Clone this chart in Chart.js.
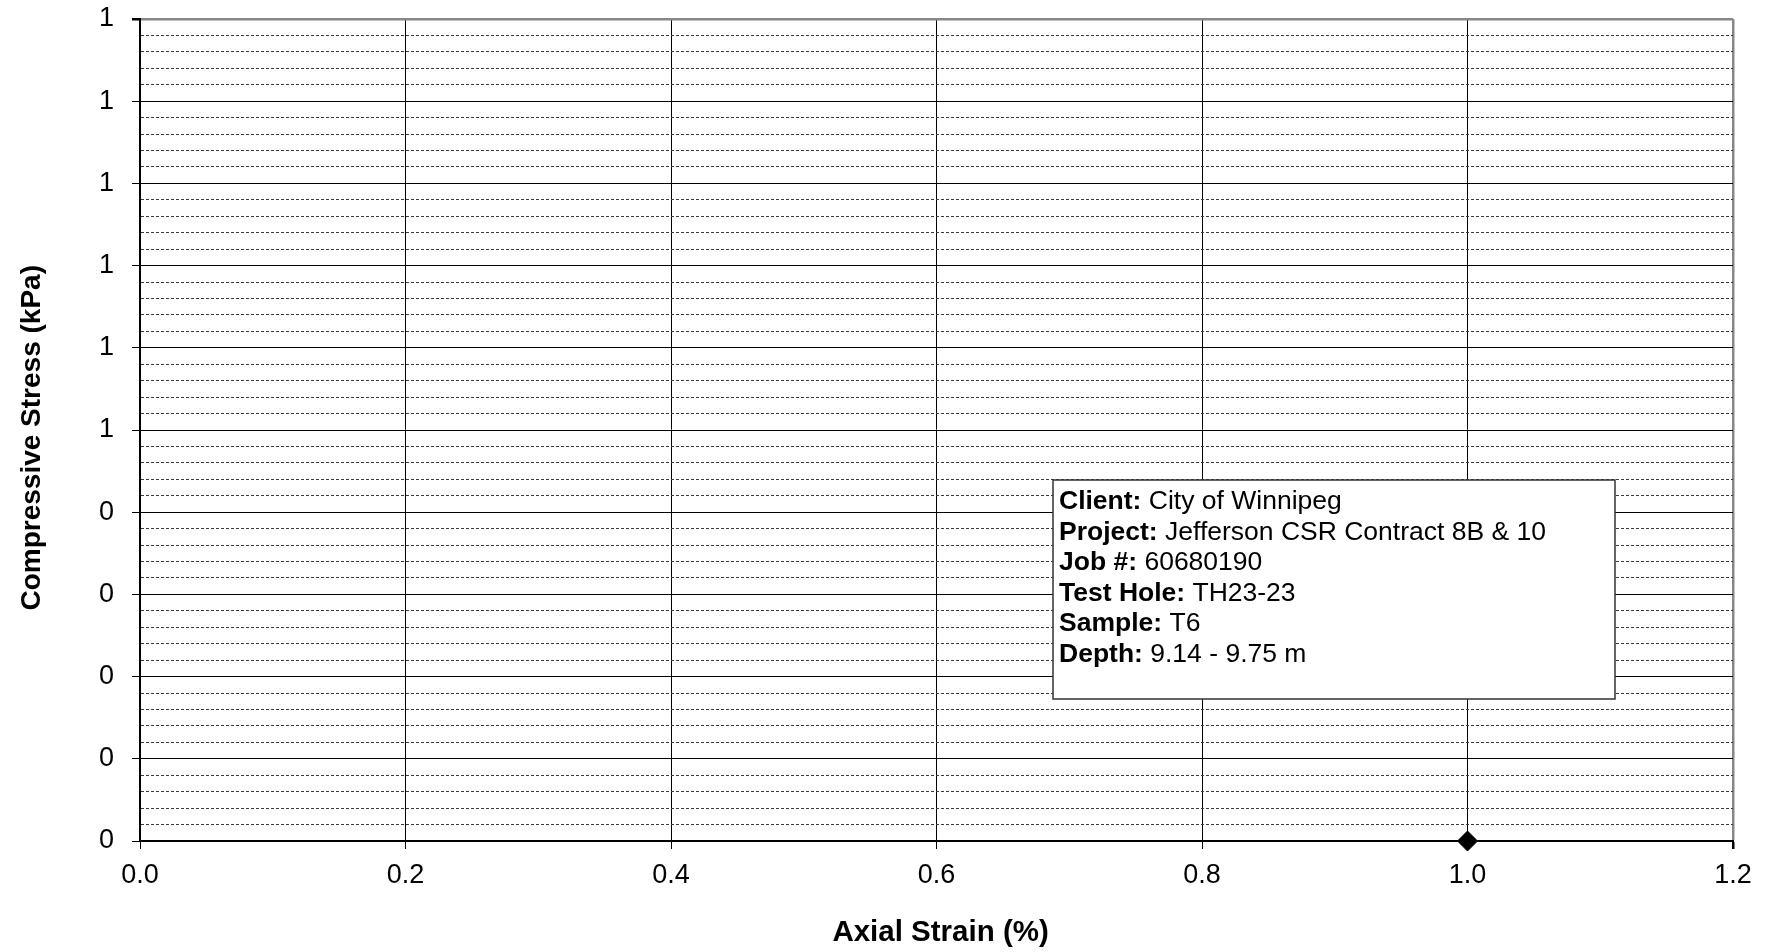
<!DOCTYPE html>
<html>
<head>
<meta charset="utf-8">
<script src="https://cdn.jsdelivr.net/npm/chart.js@4/dist/chart.umd.min.js"></script>
<style>
  html, body { margin: 0; padding: 0; background: #fff; }
  #chart { display: block; }
</style>
</head>
<body>
<canvas id="chart" width="1774" height="952"></canvas>
<script>
// Data
const strainValues = [1.0];
const stressValues = [0];

// Tick labels (Excel shows 0 decimals on the stress axis)
const xTickLabels = ["0.0", "0.2", "0.4", "0.6", "0.8", "1.0", "1.2"];
const yTickLabels = ["0", "0", "0", "0", "0", "1", "1", "1", "1", "1", "1"];

// Sample info box
const infoLabels = ["Client:", "Project:", "Job #:", "Test Hole:", "Sample:", "Depth:"];
const infoValues = ["City of Winnipeg", "Jefferson CSR Contract 8B & 10", "60680190", "TH23-23", "T6", "9.14 - 9.75 m"];

const FONT = "'Liberation Sans', Arial, sans-serif";

const isMajorY = (v) => Math.abs(v * 10 - Math.round(v * 10)) < 1e-6;

// Info box drawn on top of the plot
const infoBoxPlugin = {
  id: "infoBox",
  afterDraw(chart) {
    const ctx = chart.ctx;
    const x = 1053, y = 480, w = 562, h = 219;
    ctx.save();
    ctx.fillStyle = "#fff";
    ctx.fillRect(x, y, w, h);
    ctx.strokeStyle = "#333";
    ctx.lineWidth = 1.5;
    ctx.strokeRect(x, y, w, h);
    ctx.fillStyle = "#000";
    ctx.textBaseline = "alphabetic";
    infoLabels.forEach((label, i) => {
      const ty = 509 + i * 30.5;
      ctx.font = "bold 26.5px " + FONT;
      ctx.fillText(label, 1059, ty);
      const lw = ctx.measureText(label + " ").width;
      ctx.font = "26.5px " + FONT;
      ctx.fillText(infoValues[i], 1059 + lw, ty);
    });
    ctx.restore();
  },
};

new Chart(document.getElementById("chart").getContext("2d"), {
  type: "scatter",
  data: {
    datasets: [
      {
        label: "Stress",
        data: strainValues.map((s, i) => ({ x: s, y: stressValues[i] })),
        pointStyle: "rectRot",
        pointRadius: 10,
        pointHoverRadius: 10,
        backgroundColor: "#000",
        borderColor: "#000",
        borderWidth: 1,
        showLine: false,
        clip: false,
      },
    ],
  },
  options: {
    responsive: false,
    animation: false,
    devicePixelRatio: 1,
    layout: { padding: { left: 0, top: 19, right: 41, bottom: 0 } },
    plugins: {
      legend: { display: false },
      tooltip: { enabled: false },
    },
    scales: {
      x: {
        type: "linear",
        min: 0,
        max: 1.2,
        ticks: {
          stepSize: 0.2,
          padding: 10,
          color: "#000",
          font: { family: FONT, size: 27 },
          callback: (v, i) => xTickLabels[i],
        },
        grid: {
          color: (c) => (c.tick && c.tick.value >= 1.199 ? "#888" : "#000"),
          lineWidth: (c) => (c.tick && c.tick.value >= 1.199 ? 2.5 : 1),
          tickLength: 8,
          tickColor: "#000",
        },
        border: { color: "#000", width: 2 },
        title: {
          display: true,
          // leading nbsp nudges the title slightly right, like the original
          text: "\u00a0Axial Strain (%)",
          color: "#000",
          font: { family: FONT, size: 29.5, weight: "bold" },
          padding: { top: 0, bottom: 1 },
        },
        afterFit: (s) => { s.height = 111; },
      },
      y: {
        type: "linear",
        min: 0,
        max: 1,
        ticks: {
          stepSize: 0.02,
          autoSkip: false,
          padding: 18,
          color: "#000",
          font: { family: FONT, size: 27 },
          callback: (v) => (isMajorY(v) ? yTickLabels[Math.round(v * 10)] : ""),
        },
        grid: {
          color: (c) => {
            if (!c.tick) return "#000";
            if (c.tick.value >= 0.999) return "#888";
            return isMajorY(c.tick.value) ? "#000" : "#3a3a3a";
          },
          lineWidth: (c) => (c.tick && c.tick.value >= 0.999 ? 2.5 : 1),
          tickLength: 8,
          tickColor: (c) => (c.tick && isMajorY(c.tick.value) ? "#000" : "rgba(0,0,0,0)"),
        },
        border: {
          color: "#000",
          width: 2,
          dash: (c) => (c.tick && !isMajorY(c.tick.value) ? [3, 2] : []),
        },
        title: {
          display: true,
          // trailing nbsp nudges the rotated title slightly down
          text: "Compressive Stress (kPa)\u00a0\u00a0",
          color: "#000",
          font: { family: FONT, size: 28, weight: "bold" },
          padding: { top: 15, bottom: 0 },
        },
        afterFit: (s) => {
          s.width = 140;
          // labels are allowed to overhang the plot edges, as in the reference
          s.paddingTop = 0;
          s.paddingBottom = 0;
        },
      },
    },
  },
  plugins: [infoBoxPlugin],
});
</script>
</body>
</html>
